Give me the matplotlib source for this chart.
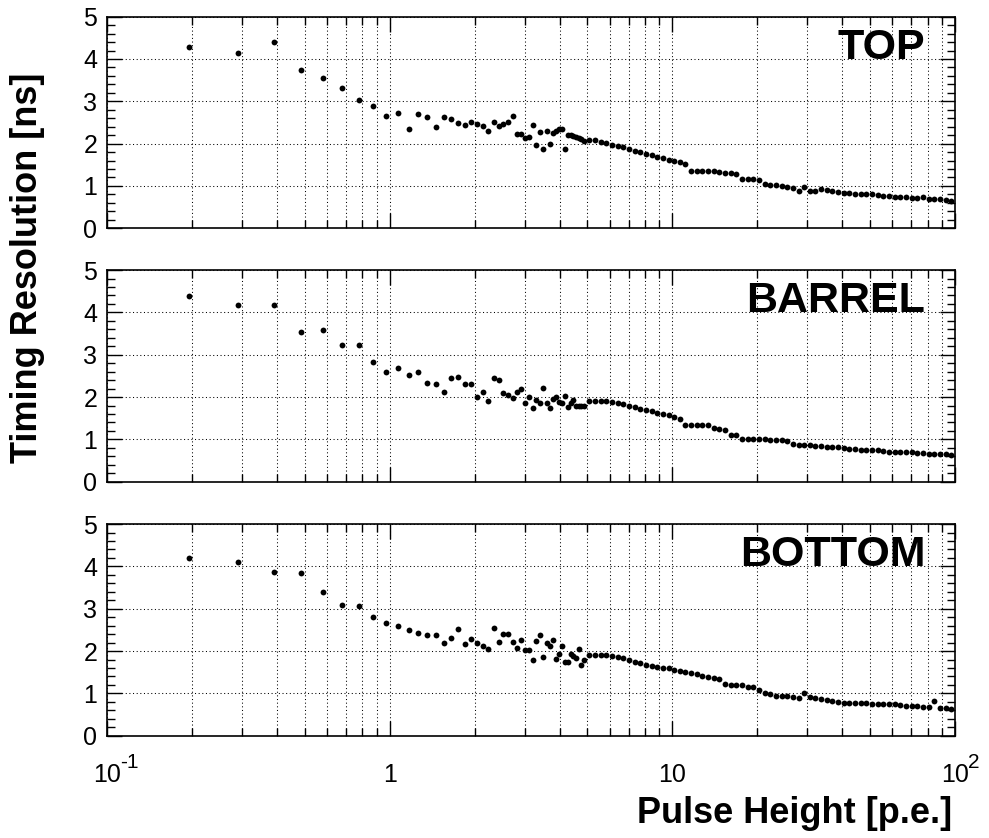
import matplotlib as mpl
import numpy as np
import matplotlib.pyplot as plt
import matplotlib.transforms as mtransforms
from matplotlib.ticker import MultipleLocator, NullFormatter

mpl.use("Agg")
plt.rcParams["font.family"] = ["Liberation Sans", "DejaVu Sans"]

# pulse height bins: 0.1 p.e. steps up to 5, then 0.02 decade steps up to 100
pulse_height = [
    0.2, 0.3, 0.4, 0.5, 0.6, 0.7, 0.8, 0.9, 1.0,
    1.1, 1.2, 1.3, 1.4, 1.5, 1.6, 1.7, 1.8, 1.9, 2.0,
    2.1, 2.2, 2.3, 2.4, 2.5, 2.6, 2.7, 2.8, 2.9, 3.0,
    3.1, 3.2, 3.3, 3.4, 3.5, 3.6, 3.7, 3.8, 3.9, 4.0,
    4.1, 4.2, 4.3, 4.4, 4.5, 4.6, 4.7, 4.8, 4.9, 5.0,
    5.236, 5.482, 5.741, 6.011, 6.295, 6.591, 6.902, 7.227, 7.568, 7.924,
    8.298, 8.689, 9.099, 9.527, 9.976, 10.45, 10.94, 11.45, 11.99, 12.56,
    13.15, 13.77, 14.42, 15.10, 15.81, 16.56, 17.34, 18.15, 19.01, 19.91,
    20.84, 21.83, 22.85, 23.93, 25.06, 26.24, 27.48, 28.77, 30.13, 31.55,
    33.03, 34.59, 36.22, 37.93, 39.72, 41.59, 43.55, 45.60, 47.75, 50.00,
    52.36, 54.82, 57.41, 60.11, 62.95, 65.91, 69.02, 72.27, 75.68, 79.24,
    82.98, 86.89, 90.99, 95.27, 99.76,
]

# timing resolution [ns] for each detector region
res_top = [
    4.28, 4.15, 4.41, 3.73, 3.54, 3.32, 3.03, 2.88, 2.66,
    2.72, 2.35, 2.71, 2.62, 2.39, 2.64, 2.59, 2.48, 2.44, 2.50,
    2.46, 2.41, 2.31, 2.50, 2.41, 2.46, 2.50, 2.65, 2.23, 2.23,
    2.13, 2.15, 2.43, 1.97, 2.27, 1.87, 2.29, 1.99, 2.25, 2.31,
    2.34, 2.35, 1.88, 2.20, 2.20, 2.18, 2.16, 2.14, 2.12, 2.07,
    2.08, 2.09, 2.03, 2.02, 1.97, 1.94, 1.91, 1.87, 1.83, 1.80,
    1.76, 1.72, 1.69, 1.65, 1.62, 1.60, 1.56, 1.53, 1.36, 1.36,
    1.36, 1.35, 1.35, 1.33, 1.31, 1.30, 1.28, 1.17, 1.17, 1.16,
    1.15, 1.05, 1.03, 1.02, 1.01, 0.98, 0.94, 0.89, 0.97, 0.88,
    0.89, 0.93, 0.91, 0.88, 0.85, 0.83, 0.83, 0.80, 0.81, 0.82,
    0.80, 0.78, 0.77, 0.76, 0.75, 0.74, 0.73, 0.72, 0.72, 0.73,
    0.69, 0.69, 0.70, 0.66, 0.65,
]

res_barrel = [
    4.39, 4.17, 4.17, 3.53, 3.58, 3.23, 3.23, 2.83, 2.59,
    2.69, 2.52, 2.59, 2.34, 2.31, 2.13, 2.46, 2.47, 2.31, 2.31,
    2.01, 2.13, 1.91, 2.45, 2.41, 2.10, 2.05, 1.98, 2.13, 2.20,
    1.87, 2.00, 1.73, 1.94, 1.87, 2.22, 1.87, 1.73, 1.96, 2.00,
    1.89, 1.85, 2.02, 1.77, 1.85, 1.94, 1.80, 1.80, 1.80, 1.80,
    1.91, 1.91, 1.91, 1.91, 1.88, 1.85, 1.83, 1.80, 1.77, 1.72,
    1.69, 1.67, 1.62, 1.59, 1.57, 1.54, 1.49, 1.34, 1.34, 1.34,
    1.34, 1.34, 1.26, 1.24, 1.21, 1.11, 1.11, 1.02, 1.02, 1.01,
    1.00, 1.00, 0.99, 0.98, 0.98, 0.97, 0.90, 0.87, 0.87, 0.86,
    0.85, 0.84, 0.83, 0.82, 0.81, 0.80, 0.78, 0.77, 0.76, 0.76,
    0.75, 0.74, 0.73, 0.70, 0.69, 0.69, 0.69, 0.69, 0.68, 0.67,
    0.65, 0.65, 0.65, 0.65, 0.62,
]

res_bottom = [
    4.20, 4.11, 3.87, 3.84, 3.39, 3.08, 3.07, 2.81, 2.67,
    2.60, 2.49, 2.43, 2.37, 2.39, 2.19, 2.32, 2.51, 2.17, 2.28,
    2.19, 2.12, 2.06, 2.54, 2.21, 2.40, 2.40, 2.22, 2.08, 2.26,
    2.02, 2.02, 1.78, 2.24, 2.39, 1.85, 2.20, 2.13, 2.25, 1.81,
    1.93, 2.13, 1.73, 1.75, 1.94, 1.88, 1.83, 2.05, 1.66, 1.78,
    1.91, 1.91, 1.91, 1.91, 1.89, 1.86, 1.83, 1.80, 1.75, 1.72,
    1.68, 1.65, 1.63, 1.61, 1.59, 1.56, 1.53, 1.50, 1.47, 1.45,
    1.42, 1.39, 1.37, 1.34, 1.22, 1.20, 1.19, 1.19, 1.16, 1.14,
    1.08, 1.00, 0.98, 0.94, 0.93, 0.93, 0.92, 0.90, 1.00, 0.92,
    0.89, 0.87, 0.85, 0.83, 0.80, 0.78, 0.77, 0.77, 0.77, 0.77,
    0.76, 0.75, 0.75, 0.74, 0.74, 0.73, 0.71, 0.70, 0.70, 0.68,
    0.68, 0.83, 0.66, 0.65, 0.64,
]

panel_names = ["TOP", "BARREL", "BOTTOM"]
panel_data = [res_top, res_barrel, res_bottom]

y_ticks = [0, 1, 2, 3, 4, 5]
x_ticks = [0.1, 1, 10, 100]
x_tick_labels = ["10", "1", "10", "10"]
x_tick_exponents = ["-1", "", "", "2"]

# create the figure, three stacked panels sharing the log x axis
fig = plt.figure(figsize=(9.89, 8.38), dpi=100)
panel_bottoms = [0.7276, 0.4252, 0.1221]
axes = [fig.add_axes([0.1082, b, 0.8574, 0.2525]) for b in panel_bottoms]

# markers in the original are drawn a few pixels left of their bin
shift = mtransforms.ScaledTranslation(-3.5 / 100, 0, fig.dpi_scale_trans)

for ax, name, res in zip(axes, panel_names, panel_data):
    ax.plot(pulse_height, res, "o", color="k", ms=4.2, mew=0,
            transform=ax.transData + shift, clip_on=False, zorder=3)

    ax.set_xscale("log")
    ax.set_xlim(0.1, 100)
    ax.set_ylim(0, 5)

    # y ticks 0..5 with minor ticks every 0.2
    ax.set_yticks(y_ticks)
    ax.set_yticklabels([str(v) for v in y_ticks])
    ax.yaxis.set_minor_locator(MultipleLocator(0.2))

    # dotted grid: every log decade line on x, integer lines on y
    ax.grid(True, which="both", axis="x", color="k", lw=0.75, ls=(0, (1, 2.5)))
    ax.grid(True, which="major", axis="y", color="k", lw=0.75, ls=(0, (1, 2.5)))

    ax.tick_params(which="both", direction="in", top=True, right=True,
                   width=1, labelsize=18)
    ax.tick_params(which="major", length=11)
    ax.tick_params(which="minor", length=6)
    ax.tick_params(axis="y", pad=7)
    ax.tick_params(axis="x", pad=20)

    for sp in ax.spines.values():
        sp.set_linewidth(1.2)

    ax.set_xticks(x_ticks)
    ax.xaxis.set_minor_formatter(NullFormatter())

    # region label
    ax.text(0.965, 0.80, name, transform=ax.transAxes, ha="right",
            va="baseline", fontsize=31, fontweight="bold")

# x tick labels only on the lowest panel
for ax in axes[:2]:
    ax.set_xticklabels([])
axes[2].set_xticklabels(x_tick_labels)

# ROOT-style exponents next to the "10" labels
for t, e in zip(x_ticks, x_tick_exponents):
    if e:
        axes[2].annotate(e, xy=(t, 0), xycoords=axes[2].get_xaxis_transform(),
                         xytext=(13, -32), textcoords="offset pixels",
                         ha="left", va="baseline", fontsize=15)

# axis titles
fig.text(0.028, 0.681, "Timing Resolution [ns]", rotation=90, ha="center",
         va="center", fontsize=26, fontweight="bold")
fig.text(0.9626, 0.0179, "Pulse Height [p.e.]", ha="right", va="baseline",
         fontsize=26, fontweight="bold")

plt.savefig("out.png", dpi=100)
